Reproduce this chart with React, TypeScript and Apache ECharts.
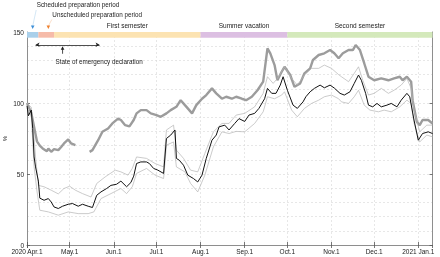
import React, { useEffect, useRef } from 'react';
import * as echarts from 'echarts';

// Days counted from 2020-04-01
const xMaxDay = 285;

const grayDays = [0,3,7,9,11,14,15,17,19,22,24,26,29,31,34,40,44,46,50,53,57,60,64,66,69,72,75,77,80,84,87,91,94,98,101,105,108,111,113,116,119,123,126,130,133,137,140,144,147,151,154,158,162,166,169,171,174,176,179,181,185,188,192,195,199,201,205,209,213,216,219,222,226,229,231,234,237,240,244,249,254,258,262,264,267,270,271,274,276,278,282,285];
const grayValues = [100,93,73,70,68,66,68,65.6,67.5,66.8,69,71.5,74.3,71.5,70.3,null,65.6,66.8,73.8,79.7,82,85.6,89,88,84.4,83.5,88,92.7,95,95,92.7,91.5,90.3,92.7,95,97.3,102,98.5,96.2,92.7,98.5,103,105.6,110.3,106.8,103,104.4,103,104.4,103,102,104.4,109,115,138.5,135,126.7,116,122,125.5,119.7,111.4,113.8,120.9,124.4,130.3,133.8,135,137.3,135,131.5,135,137.3,137.3,140.8,137.3,128,118.5,116,117.3,116,117.3,118.5,116,118.5,115,102,86.7,84.4,88,88,85.6];

const blackDays = [0,1,2,3,4,5,6,8,9,12,15,17,19,22,25,29,32,36,39,43,46,49,52,56,59,63,66,70,73,75,77,80,84,86,89,92,96,98,101,104,105,107,110,113,117,120,123,126,130,133,135,139,142,146,149,153,156,160,163,167,169,172,175,178,180,183,187,190,194,196,199,202,206,209,213,216,220,223,227,230,233,235,238,240,243,246,249,253,256,260,263,267,269,272,275,278,282,285];
const blackValues = [98,91,93,95,82,62,55,45,33,31.5,32.7,30.3,26.8,25.7,27.3,28.7,29.2,27.3,28.7,27.3,26.4,35,37.4,39.8,42,42.8,45,41,44,48.5,57.4,58.5,58.5,57.4,53.9,52.7,50.4,75,77.4,81,61,59.7,56.2,49.2,46.8,44.4,49.2,61,73.8,77.4,83.2,84.4,81,85.6,89,87,91.5,92.7,96.2,103,110.3,106.8,106.8,112.6,118.5,109,98.5,96.2,100.8,104.4,107.9,110.3,112.6,110.7,112.6,110.5,106.8,105.6,107.9,113.8,119.7,116,106.8,98.5,97.3,99.7,97.3,98.5,99.7,97.3,102,106.8,104.4,88,73.8,78.5,79.7,78.5];

const upperDays = [0,3,5,6,8,12,17,22,26,30,34,39,45,49,55,62,66,71,74,77,84,90,96,98,103,105,110,115,120,125,131,137,142,147,153,160,166,169,173,176,181,186,190,195,200,205,209,214,219,221,226,230,233,236,240,244,249,254,258,263,267,270,272,276,281,285];
const upperValues = [100,97,75,62,42,41,38.6,36,39.8,41.4,38.6,36.2,33.8,43.3,48,52.7,51.5,49.2,53.9,62,61,57.4,55,81,84.4,66.8,61,52.7,51.5,64.5,79.7,85.6,85.6,91.5,92.7,97.3,106.8,118.5,113.8,117.3,125.5,117.3,112.6,119.7,124.4,124.4,126.7,124.4,120,118.5,115,120.9,125.5,116,105.6,106.8,110.3,106.8,109,112.6,117.3,110.3,95,79.7,84.4,84.4];

const lowerDays = [0,3,5,7,9,15,22,29,36,43,47,52,59,66,70,74,77,84,90,96,98,103,105,111,115,120,125,131,137,142,147,153,160,166,169,174,179,181,186,190,195,200,205,209,214,219,221,226,230,233,237,241,247,251,256,262,267,270,272,276,281,285];
const lowerValues = [96,92,55,38,24.5,23.3,21,23.3,22.1,22.1,23.3,32.7,36.2,39.8,36.2,41,50.4,53.9,49.2,46.8,70.3,72.6,55,51.5,43.3,37.4,49.2,69.1,79.7,78.5,80,79.7,85.6,93.8,104.4,103,105.6,107.9,95,90.3,96.2,99.7,102,104.4,105.6,103,100.8,99.7,104.4,109,98.5,95,93.8,95,93.8,97.3,102,99.7,86,72.6,77.4,76.2];

const periodNames = ['Scheduled preparation period', 'Unscheduled preparation period', 'First semester', 'Summer vacation', 'Second semester'];
const periodStart = [0, 8, 19, 122, 183];
const periodEnd = [8, 19, 122, 183, 285];
const periodColors = ['#a9cfea', '#f6bba9', '#fce3b2', '#dcbfe2', '#d4e9bb'];
const bandBottom = 146;

const emergencyStart = 6;
const emergencyEnd = 51;
const emergencyLevel = 141;
const emergencyLabel = 'State of emergency declaration';
const scheduledArrowDay = 4;
const unscheduledArrowDay = 15;
const emergencyArrowDay = 25;

const monthLabels = ['Jan.1', 'Feb.1', 'Mar.1', 'Apr.1', 'May.1', 'Jun.1', 'Jul.1', 'Aug.1', 'Sep.1', 'Oct.1', 'Nov.1', 'Dec.1'];

const DAY = 86400000;
const dayToTime = (d: number) => new Date(2020, 3, 1 + d).getTime();
const pairs = (days: number[], vals: (number | null)[]) => days.map((d, i) => [dayToTime(d), vals[i]]);

export default function App() {
  const ref = useRef<HTMLDivElement>(null);
  useEffect(() => {
    const chart = echarts.init(ref.current!, null, { renderer: 'svg' });
    const font = "'Liberation Sans', Arial, Helvetica, sans-serif";
    const t0 = dayToTime(0);
    const t1 = dayToTime(xMaxDay);
    const axisColor = '#8e8e8e';
    const gridLine = { show: true, lineStyle: { color: '#d6d6d6', type: [2, 2], width: 0.6 } };
    const tickStyle = { show: true, inside: true, length: 3, lineStyle: { color: '#555', width: 0.8 } };
    const labelFmt = (value: number) => {
      const d = new Date(value);
      if (d.getDate() !== 1) return '';
      const lab = monthLabels[d.getMonth()];
      if ((d.getMonth() === 3 && d.getFullYear() === 2020) || d.getMonth() === 0) return d.getFullYear() + ' ' + lab;
      return lab;
    };
    const option: any = {
      animation: false,
      textStyle: { fontFamily: font },
      grid: { left: 27, right: 7.5, top: 32, bottom: 12, containLabel: false, outerBoundsMode: 'none' },
      xAxis: [
        {
          type: 'time', min: t0, max: t1, splitNumber: 9, minInterval: 28 * DAY, maxInterval: 31 * DAY,
          axisLine: { show: true, lineStyle: { color: axisColor, width: 1 } },
          axisTick: tickStyle,
          axisLabel: { fontSize: 6.5, color: '#222', margin: 3, showMinLabel: true, showMaxLabel: false, hideOverlap: false, formatter: labelFmt, fontFamily: font },
          splitLine: gridLine,
        },
        {
          type: 'time', position: 'top', min: t0, max: t1, splitNumber: 9, minInterval: 28 * DAY, maxInterval: 31 * DAY,
          axisLine: { show: false },
          axisTick: tickStyle,
          axisLabel: { show: false },
          splitLine: { show: false },
        },
      ],
      yAxis: [
        {
          type: 'value', min: 0, max: 150, interval: 50,
          name: '%', nameLocation: 'middle', nameGap: 19, nameRotate: 90, nameMoveOverlap: false,
          nameTextStyle: { fontSize: 6, color: '#222', fontFamily: font },
          axisLine: { show: true, lineStyle: { color: axisColor, width: 1 } },
          axisTick: tickStyle,
          axisLabel: { fontSize: 6.5, color: '#222', margin: 3, fontFamily: font },
          splitLine: gridLine,
          minorTick: { show: false, splitNumber: 5 },
          minorSplitLine: gridLine,
        },
        {
          type: 'value', position: 'right', min: 0, max: 150, interval: 50,
          axisLine: { show: true, lineStyle: { color: axisColor, width: 1 } },
          axisTick: tickStyle,
          axisLabel: { show: false },
          splitLine: { show: false },
        },
      ],
      series: [
        {
          type: 'line', name: 'gray', data: pairs(grayDays, grayValues), showSymbol: false, symbol: 'none',
          connectNulls: false, lineStyle: { color: '#9c9c9c', width: 2.4 }, z: 2,
          markArea: {
            silent: true,
            label: { position: 'top', distance: 3, fontSize: 6.5, color: '#222', fontFamily: font },
            data: periodStart.map((s, i) => [
              { name: periodNames[i], xAxis: dayToTime(s), yAxis: bandBottom, itemStyle: { color: periodColors[i] }, label: { show: i >= 2 } },
              { xAxis: dayToTime(periodEnd[i]), yAxis: 150 },
            ]),
          },
          markLine: {
            silent: true, symbol: ['arrow', 'arrow'], symbolSize: [3.5, 4],
            lineStyle: { color: '#222', width: 0.8, type: 'solid' },
            label: { show: false },
            data: [[{ coord: [dayToTime(emergencyStart), emergencyLevel] }, { coord: [dayToTime(emergencyEnd), emergencyLevel] }]],
          },
        },
        { type: 'line', name: 'lower', data: pairs(lowerDays, lowerValues), showSymbol: false, symbol: 'none', lineStyle: { color: '#b4b4b4', width: 0.7 }, z: 3 },
        { type: 'line', name: 'upper', data: pairs(upperDays, upperValues), showSymbol: false, symbol: 'none', lineStyle: { color: '#b4b4b4', width: 0.7 }, z: 3 },
        { type: 'line', name: 'median', data: pairs(blackDays, blackValues), showSymbol: false, symbol: 'none', lineStyle: { color: '#111', width: 1 }, z: 4 },
      ],
    };
    chart.setOption(option);

    const px = (d: number, v: number) => chart.convertToPixel({ gridIndex: 0 }, [dayToTime(d), v]) as number[];
    const [bx, topY] = px(scheduledArrowDay, 150);
    const [ox] = px(unscheduledArrowDay, 150);
    const [ex, ey] = px(emergencyArrowDay, emergencyLevel);
    const downArrow = (x: number, color: string, leader: string, fromX: number, fromY: number) => [
      { type: 'line', shape: { x1: fromX, y1: fromY, x2: x, y2: topY - 6 }, style: { stroke: leader, lineWidth: 0.6 } },
      { type: 'polygon', shape: { points: [[x - 1.8, topY - 6.5], [x + 1.8, topY - 6.5], [x, topY - 3]] }, style: { fill: color } },
    ];
    const textStyle = (text: string, x: number, y: number) => ({
      type: 'text', x, y,
      style: { text, fill: '#222', fontSize: 6.3, fontFamily: font, align: 'left', verticalAlign: 'middle' },
    });
    chart.setOption({
      graphic: [
        ...downArrow(bx, '#3d8fd8', '#b9d6ee', bx + 3.5, 10),
        ...downArrow(ox, '#f0812e', '#f6cba8', ox + 3.5, 19.5),
        textStyle(periodNames[0], bx + 4, 4),
        textStyle(periodNames[1], ox + 4, 14),
        { type: 'line', shape: { x1: ex, y1: ey + 4, x2: ex, y2: ey + 9 }, style: { stroke: '#222', lineWidth: 0.8 } },
        { type: 'polygon', shape: { points: [[ex - 1.8, ey + 5], [ex + 1.8, ey + 5], [ex, ey + 1.5]] }, style: { fill: '#222' } },
        textStyle(emergencyLabel, ex - 7, ey + 17),
      ],
    });
    return () => chart.dispose();
  }, []);
  return <div ref={ref} style={{ position: 'fixed', left: 0, top: 0, width: 440, height: 257 }} />;
}
